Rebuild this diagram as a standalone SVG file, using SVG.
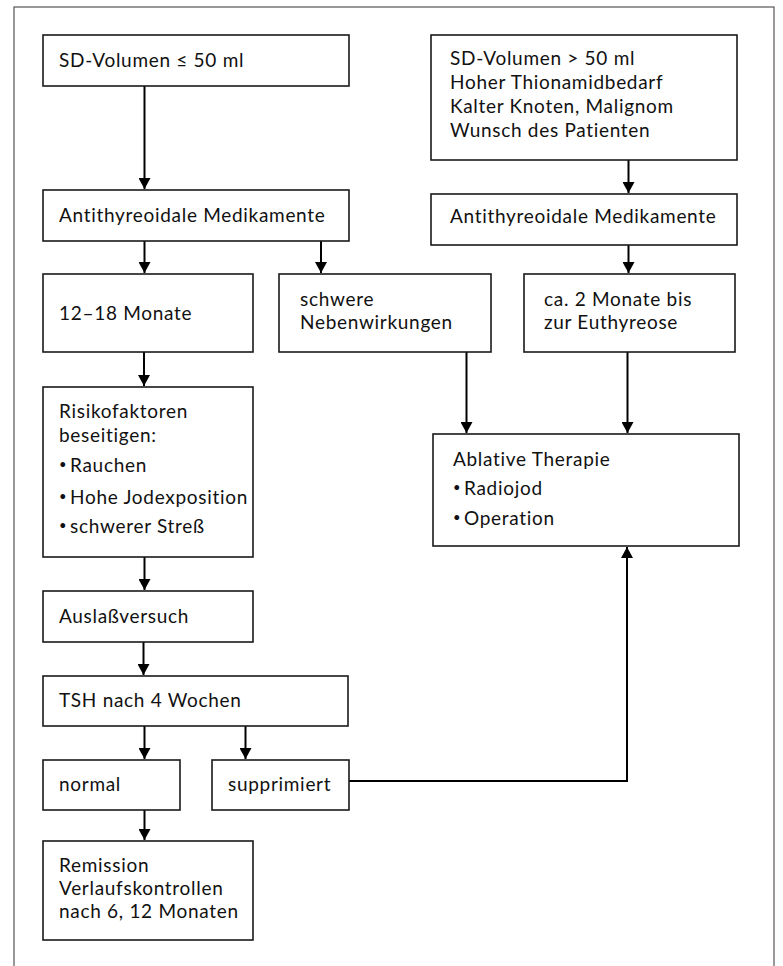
<svg xmlns="http://www.w3.org/2000/svg" width="783" height="966" viewBox="0 0 783 966">
<defs>
<style>
.box{fill:#fff;stroke:#1a1a1a;stroke-width:1.6}
.frame{fill:none;stroke:#555;stroke-width:1.2}
.t{font-family:Lato,"Open Sans","Liberation Sans",sans-serif;font-size:19px;letter-spacing:0.7px;fill:#111}
.b{font-size:13px}
.c{fill:none;stroke:#000;stroke-width:2}
</style>
<marker id="ah" markerWidth="11" markerHeight="12" refX="11" refY="6" orient="auto" markerUnits="userSpaceOnUse" viewBox="0 0 11 12">
<path d="M0,0 L11,6 L0,12 Z" fill="#000"/>
</marker>
</defs>
<rect width="783" height="966" fill="#fff"/>
<rect class="frame" x="14" y="7" width="760" height="980"/>

<g id="connectors">
<line class="c" x1="144.5" y1="86" x2="144.5" y2="189" marker-end="url(#ah)"/>
<line class="c" x1="144.5" y1="241" x2="144.5" y2="273" marker-end="url(#ah)"/>
<line class="c" x1="321" y1="241" x2="321" y2="273" marker-end="url(#ah)"/>
<line class="c" x1="144" y1="352" x2="144" y2="386" marker-end="url(#ah)"/>
<line class="c" x1="144.5" y1="557" x2="144.5" y2="590" marker-end="url(#ah)"/>
<line class="c" x1="143.5" y1="642" x2="143.5" y2="675" marker-end="url(#ah)"/>
<line class="c" x1="144.5" y1="726" x2="144.5" y2="759" marker-end="url(#ah)"/>
<line class="c" x1="245.5" y1="726" x2="245.5" y2="759" marker-end="url(#ah)"/>
<line class="c" x1="144.5" y1="810" x2="144.5" y2="840" marker-end="url(#ah)"/>
<line class="c" x1="628.5" y1="160" x2="628.5" y2="193" marker-end="url(#ah)"/>
<line class="c" x1="628.5" y1="245" x2="628.5" y2="273" marker-end="url(#ah)"/>
<line class="c" x1="466.5" y1="352" x2="466.5" y2="433" marker-end="url(#ah)"/>
<line class="c" x1="627.5" y1="352" x2="627.5" y2="433" marker-end="url(#ah)"/>
<polyline class="c" points="349,781 627,781 627,547" marker-end="url(#ah)"/>
</g>

<g id="n1">
<rect class="box" x="43" y="35" width="306" height="51"/>
<text class="t" x="59" y="67">SD-Volumen ≤ 50 ml</text>
</g>
<g id="n2">
<rect class="box" x="43" y="190" width="306" height="51"/>
<text class="t" x="59" y="222">Antithyreoidale Medikamente</text>
</g>
<g id="n3">
<rect class="box" x="43" y="274" width="210" height="78"/>
<text class="t" x="59" y="320">12–18 Monate</text>
</g>
<g id="n4">
<rect class="box" x="279" y="274" width="212" height="78"/>
<text class="t" x="300" y="306">schwere<tspan x="300" dy="23">Nebenwirkungen</tspan></text>
</g>
<g id="n5">
<rect class="box" x="43" y="387" width="210" height="170"/>
<text class="t" x="59" y="418">Risikofaktoren<tspan x="59" dy="24">beseitigen:</tspan><tspan x="59" dy="27" class="b">•</tspan><tspan x="70" dy="3">Rauchen</tspan><tspan x="59" dy="29" class="b">•</tspan><tspan x="70" dy="3">Hohe Jodexposition</tspan><tspan x="59" dy="26" class="b">•</tspan><tspan x="70" dy="3">schwerer Streß</tspan></text>
</g>
<g id="n6">
<rect class="box" x="43" y="591" width="210" height="51"/>
<text class="t" x="59" y="623">Auslaßversuch</text>
</g>
<g id="n7">
<rect class="box" x="43" y="676" width="305" height="50"/>
<text class="t" x="59" y="707">TSH nach 4 Wochen</text>
</g>
<g id="n8">
<rect class="box" x="43" y="760" width="137" height="50"/>
<text class="t" x="59" y="791">normal</text>
</g>
<g id="n9">
<rect class="box" x="212" y="760" width="137" height="50"/>
<text class="t" x="228" y="791">supprimiert</text>
</g>
<g id="n10">
<rect class="box" x="43" y="841" width="210" height="99"/>
<text class="t" x="59" y="872">Remission<tspan x="59" dy="23">Verlaufskontrollen</tspan><tspan x="59" dy="23">nach 6, 12 Monaten</tspan></text>
</g>
<g id="n11">
<rect class="box" x="431" y="35" width="306" height="125"/>
<text class="t" x="450" y="65">SD-Volumen &gt; 50 ml<tspan x="450" dy="24">Hoher Thionamidbedarf</tspan><tspan x="450" dy="24">Kalter Knoten, Malignom</tspan><tspan x="450" dy="24">Wunsch des Patienten</tspan></text>
</g>
<g id="n12">
<rect class="box" x="431" y="194" width="306" height="51"/>
<text class="t" x="450" y="223">Antithyreoidale Medikamente</text>
</g>
<g id="n13">
<rect class="box" x="524" y="274" width="211" height="78"/>
<text class="t" x="544" y="306">ca. 2 Monate bis<tspan x="544" dy="23">zur Euthyreose</tspan></text>
</g>
<g id="n14">
<rect class="box" x="433" y="434" width="306" height="112"/>
<text class="t" x="453" y="466">Ablative Therapie<tspan x="453" dy="26" class="b">•</tspan><tspan x="464" dy="3">Radiojod</tspan><tspan x="453" dy="27" class="b">•</tspan><tspan x="464" dy="3">Operation</tspan></text>
</g>
</svg>
